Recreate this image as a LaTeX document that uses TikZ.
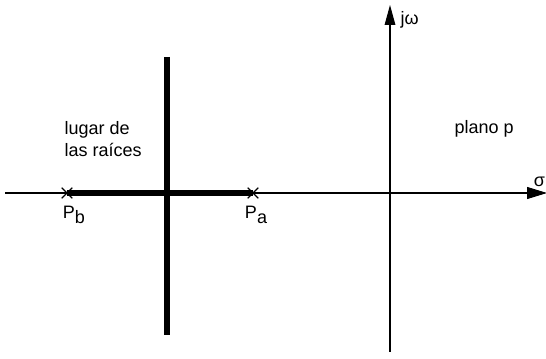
\documentclass[tikz,border=0pt]{standalone}
\usepackage{fontspec}
\setmainfont{Liberation Sans}
\usetikzlibrary{arrows.meta, positioning, shapes.misc}

\begin{document}
\begin{tikzpicture}[x=0.75pt, y=-0.75pt, font=\fontsize{13.5}{16}\selectfont,
    axis/.style={line width=0.8pt},
    locus/.style={line width=3.8pt},
    polemark/.style={draw, cross out, line width=0.9pt, minimum size=7pt, inner sep=0pt}]
    \useasboundingbox (0,0) rectangle (546,359);

    % Axes
    \coordinate (xl) at (5,193);
    \coordinate (xr) at (547,193);
    \coordinate (yb) at (390,352);
    \coordinate (yt) at (390,5);
    \draw[axis, -{Triangle[length=15pt, width=9pt]}] (xl) -- (xr);
    \draw[axis, -{Triangle[length=15pt, width=8pt]}] (yb) -- (yt);
    \node[anchor=west] (jw) at (396,20) {jω};
    \node[anchor=east, inner sep=0.5pt] (sigma) at (546,182) {σ};
    \node[anchor=west] (plano) at (450,129) {plano p};

    % Poles
    \node[polemark] (pb) at (67,193) {};
    \node[polemark] (pa) at (253,193) {};
    \node (pblab) at (74,215) {P\raisebox{-0.45ex}{b}};
    \node (palab) at (256,215) {P\raisebox{-0.45ex}{a}};

    % Root locus
    \coordinate (vt) at (167,57);
    \coordinate (vb) at (167,335);
    \draw[locus] (pb.center) -- (pa.center);
    \draw[locus] (vt) -- (vb);
    \node[anchor=west, align=left] (lugar) at (60,139) {lugar de\\las raíces};
\end{tikzpicture}
\end{document}
